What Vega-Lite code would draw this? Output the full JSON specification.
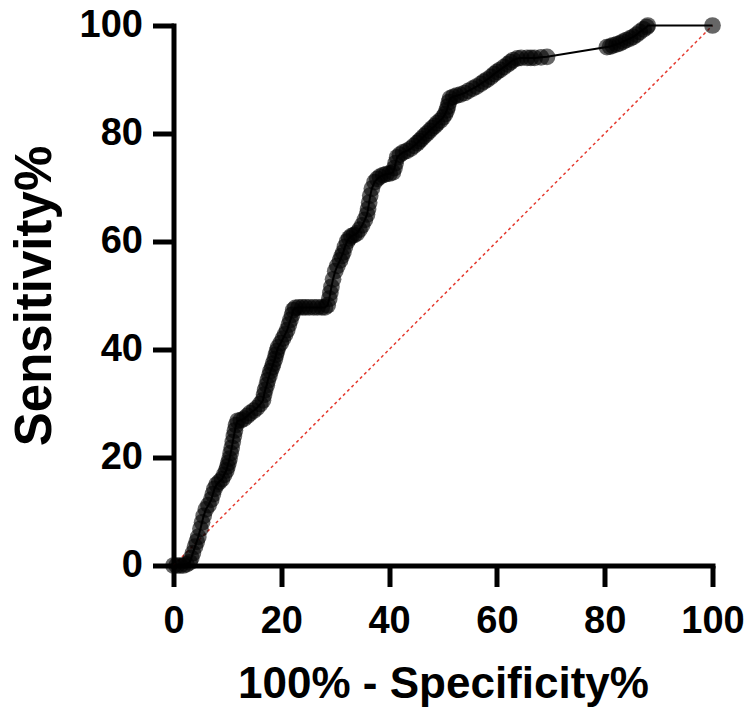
{
  "$schema": "https://vega.github.io/schema/vega-lite/v6.json",
  "width": 539,
  "height": 540,
  "autosize": {"type": "none"},
  "padding": {"left": 173.5, "top": 25.5, "right": 34.5, "bottom": 142.5},
  "background": "white",
  "config": {
    "view": {"stroke": null},
    "axis": {
      "grid": false,
      "domainColor": "black",
      "domainWidth": 5,
      "domainCap": "square",
      "tickColor": "black",
      "tickWidth": 5,
      "tickSize": 21,
      "labelFont": "Liberation Sans",
      "labelFontWeight": "bold",
      "labelFontSize": 38,
      "labelColor": "black",
      "titleFont": "Liberation Sans",
      "titleFontWeight": "bold",
      "titleColor": "black"
    }
  },
  "datasets": {
    "roc": [
      {"x": 0, "y": 0}, {"x": 0.6, "y": 0}, {"x": 1.2, "y": 0}, {"x": 1.8, "y": 0}, {"x": 2.4, "y": 0.2}, {"x": 3, "y": 0.6},
      {"x": 3.3, "y": 1.4}, {"x": 3.6, "y": 2.3}, {"x": 4, "y": 3.5}, {"x": 4.3, "y": 4.4}, {"x": 4.6, "y": 5.3}, {"x": 5, "y": 6.8},
      {"x": 5.3, "y": 8}, {"x": 5.6, "y": 9.2}, {"x": 6, "y": 10.4}, {"x": 6.5, "y": 11.2}, {"x": 7, "y": 12.2}, {"x": 7.3, "y": 13.2}, {"x": 7.6, "y": 14.2},
      {"x": 8, "y": 15}, {"x": 8.5, "y": 15.5}, {"x": 9, "y": 16}, {"x": 9.4, "y": 16.8}, {"x": 9.8, "y": 17.6}, {"x": 10, "y": 18.3}, {"x": 10.2, "y": 19},
      {"x": 10.4, "y": 19.8}, {"x": 10.6, "y": 20.8}, {"x": 10.8, "y": 21.8}, {"x": 11, "y": 22.9}, {"x": 11.2, "y": 24}, {"x": 11.4, "y": 25}, {"x": 11.6, "y": 26},
      {"x": 11.9, "y": 26.8}, {"x": 12.5, "y": 26.9}, {"x": 13.1, "y": 27.2}, {"x": 13.7, "y": 27.7}, {"x": 14.2, "y": 28.2}, {"x": 14.9, "y": 28.7}, {"x": 15.5, "y": 29.2}, {"x": 16.1, "y": 29.9},
      {"x": 16.6, "y": 30.6}, {"x": 16.8, "y": 31.6}, {"x": 17, "y": 32.5}, {"x": 17.3, "y": 33.4}, {"x": 17.5, "y": 34.3}, {"x": 17.8, "y": 35.2}, {"x": 18, "y": 36}, {"x": 18.3, "y": 36.7},
      {"x": 18.5, "y": 37.4}, {"x": 18.8, "y": 38.2}, {"x": 19, "y": 39}, {"x": 19.2, "y": 39.7}, {"x": 19.4, "y": 40.4}, {"x": 19.9, "y": 41.2}, {"x": 20.3, "y": 42}, {"x": 20.7, "y": 42.8},
      {"x": 21.1, "y": 43.6}, {"x": 21.4, "y": 44.6}, {"x": 21.7, "y": 45.5}, {"x": 22, "y": 46.4}, {"x": 22.2, "y": 47.3}, {"x": 22.6, "y": 47.7}, {"x": 23.2, "y": 47.8}, {"x": 23.9, "y": 47.8},
      {"x": 24.5, "y": 47.8}, {"x": 25.2, "y": 47.8}, {"x": 26, "y": 47.8}, {"x": 26.7, "y": 47.8}, {"x": 27.5, "y": 47.8}, {"x": 28.1, "y": 47.8}, {"x": 28.6, "y": 48.2},
      {"x": 28.9, "y": 49.4}, {"x": 29.1, "y": 50.5}, {"x": 29.3, "y": 51.6}, {"x": 29.6, "y": 53}, {"x": 30, "y": 54.5}, {"x": 30.4, "y": 55.5},
      {"x": 30.9, "y": 56.5}, {"x": 31.2, "y": 57.3}, {"x": 31.5, "y": 58}, {"x": 31.8, "y": 59}, {"x": 32.2, "y": 60}, {"x": 32.6, "y": 60.6}, {"x": 33, "y": 61}, {"x": 33.5, "y": 61.2},
      {"x": 34, "y": 61.5}, {"x": 34.5, "y": 62.2}, {"x": 35, "y": 63}, {"x": 35.5, "y": 64}, {"x": 35.9, "y": 65}, {"x": 36.1, "y": 66}, {"x": 36.3, "y": 67.2},
      {"x": 36.5, "y": 68.5}, {"x": 36.8, "y": 69.8}, {"x": 37.3, "y": 71}, {"x": 37.8, "y": 71.6}, {"x": 38.3, "y": 72}, {"x": 38.9, "y": 72.3}, {"x": 39.5, "y": 72.5}, {"x": 40.1, "y": 72.6},
      {"x": 40.7, "y": 72.8}, {"x": 41, "y": 73.6}, {"x": 41.2, "y": 74.5}, {"x": 41.5, "y": 75.6}, {"x": 42, "y": 76.1}, {"x": 42.6, "y": 76.5}, {"x": 43.3, "y": 76.8},
      {"x": 44, "y": 77.2}, {"x": 44.6, "y": 77.7}, {"x": 45.2, "y": 78.2}, {"x": 45.6, "y": 78.6}, {"x": 46, "y": 79}, {"x": 46.5, "y": 79.5}, {"x": 47, "y": 80}, {"x": 47.5, "y": 80.5},
      {"x": 48, "y": 81}, {"x": 48.5, "y": 81.4}, {"x": 48.9, "y": 81.9}, {"x": 49.5, "y": 82.4}, {"x": 50, "y": 83}, {"x": 50.4, "y": 83.6}, {"x": 50.7, "y": 84.3}, {"x": 50.9, "y": 85},
      {"x": 51.1, "y": 85.8}, {"x": 51.3, "y": 86.5}, {"x": 51.9, "y": 86.8}, {"x": 52.5, "y": 87}, {"x": 53.2, "y": 87.2}, {"x": 54, "y": 87.5}, {"x": 54.7, "y": 87.9},
      {"x": 55.5, "y": 88.3}, {"x": 56.2, "y": 88.7}, {"x": 57, "y": 89.2}, {"x": 57.6, "y": 89.6}, {"x": 58.2, "y": 90}, {"x": 58.9, "y": 90.5}, {"x": 59.5, "y": 91}, {"x": 60, "y": 91.4},
      {"x": 60.6, "y": 91.8}, {"x": 61.3, "y": 92.3}, {"x": 62, "y": 92.8}, {"x": 62.5, "y": 93.2}, {"x": 63, "y": 93.6}, {"x": 63.8, "y": 93.9}, {"x": 64.5, "y": 94},
      {"x": 65.6, "y": 94}, {"x": 66.3, "y": 94}, {"x": 67, "y": 94}, {"x": 68.2, "y": 94.1}, {"x": 69.3, "y": 94.2}, {"x": 80.4, "y": 96},
      {"x": 81, "y": 96.1}, {"x": 81.5, "y": 96.3}, {"x": 82.2, "y": 96.5}, {"x": 82.8, "y": 96.7}, {"x": 83.4, "y": 97}, {"x": 84, "y": 97.3}, {"x": 84.7, "y": 97.6}, {"x": 85.3, "y": 97.9},
      {"x": 85.9, "y": 98.3}, {"x": 86.5, "y": 98.8}, {"x": 87.2, "y": 99.3}, {"x": 87.8, "y": 99.7}, {"x": 88, "y": 100}, {"x": 100, "y": 100}
    ],
    "ref": [{"x": 0, "y": 0}, {"x": 100, "y": 100}]
  },
  "encoding": {
    "x": {
      "field": "x", "type": "quantitative",
      "scale": {"domain": [0, 100], "nice": false, "zero": false},
      "axis": {
        "values": [0, 20, 40, 60, 80, 100],
        "title": "100% - Specificity%",
        "titleFontSize": 44,
        "titleBaseline": "alphabetic",
        "titleY": 132,
        "labelPadding": 16,
        "labelFlush": false
      }
    },
    "y": {
      "field": "y", "type": "quantitative",
      "scale": {"domain": [0, 100], "nice": false, "zero": false},
      "axis": {
        "values": [0, 20, 40, 60, 80, 100],
        "title": "Sensitivity%",
        "titleFontSize": 51,
        "titleBaseline": "alphabetic",
        "titleX": -123.5,
        "labelPadding": 10,
        "labelFlush": false
      }
    }
  },
  "layer": [
    {
      "data": {"name": "ref"},
      "mark": {"type": "line", "color": "#e53a2f", "strokeDash": [3, 3], "strokeWidth": 1.5}
    },
    {
      "data": {"name": "roc"},
      "mark": {"type": "line", "color": "black", "strokeWidth": 2}
    },
    {
      "data": {"name": "roc"},
      "mark": {"type": "circle", "color": "black", "opacity": 0.6, "size": 280}
    }
  ]
}
